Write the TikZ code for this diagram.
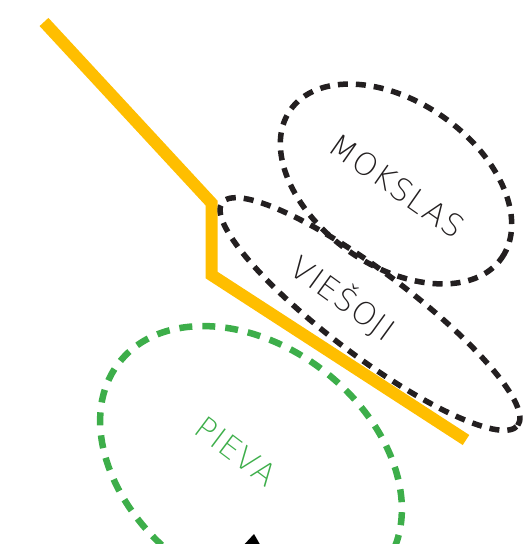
\documentclass[tikz,border=0pt]{standalone}
\usepackage{fontspec}
\setmainfont{Liberation Sans}
\newfontfamily\lblfont{DejaVu Sans}[UprightFont=* ExtraLight, LetterSpace=4]
\usetikzlibrary{shapes.geometric}
\definecolor{ylw}{HTML}{FFBE00}
\definecolor{blk}{HTML}{231F20}
\definecolor{grn}{HTML}{3DAE4A}
\begin{document}
\begin{tikzpicture}[x=1bp,y=-1bp,
  zone/.style={ellipse, draw=blk, line width=5.5bp, dash pattern=on 10bp off 8bp, inner sep=0pt, outer sep=0pt},
  gzone/.style={zone, draw=grn, line width=6.5bp, dash pattern=on 13bp off 10bp},
  lbl/.style={text=blk, inner sep=0pt, font=\lblfont\fontsize{31}{34}\selectfont},
  road/.style={draw=ylw, line width=12bp, line join=miter}]
\useasboundingbox (0,0) rectangle (530,544);
\clip (0,0) rectangle (530,544);
% yellow route
\coordinate (y1) at (44,22);
\coordinate (y2) at (211.5,203);
\coordinate (y3) at (211.5,275);
\coordinate (y4) at (466,440);
\draw[road] (y1) -- (y2) -- (y3) -- (y4);
% zones
\node[zone, rotate=-35, minimum width=258bp, minimum height=164bp] (mok) at (396,184) {};
\node[zone, rotate=-37, minimum width=370bp, minimum height=84bp] (vie) at (370,314) {};
\node[gzone, rotate=-37.7, minimum width=334bp, minimum height=238bp] (pie) at (251,465) {};
% labels
\node[lbl, rotate=-35] (mt) at (397,186) {MOKSLAS};
\node[lbl, rotate=-36] (vt) at (343,298) {VIEŠOJI};
\node[lbl, rotate=-37, text=grn] (pt) at (236,451) {PIEVA};
% black mark at bottom
\coordinate (t1) at (241,548);
\coordinate (t2) at (254,534);
\coordinate (t3) at (262,548);
\fill[black] (t1) -- (t2) -- (t3) -- cycle;
\end{tikzpicture}
\end{document}
